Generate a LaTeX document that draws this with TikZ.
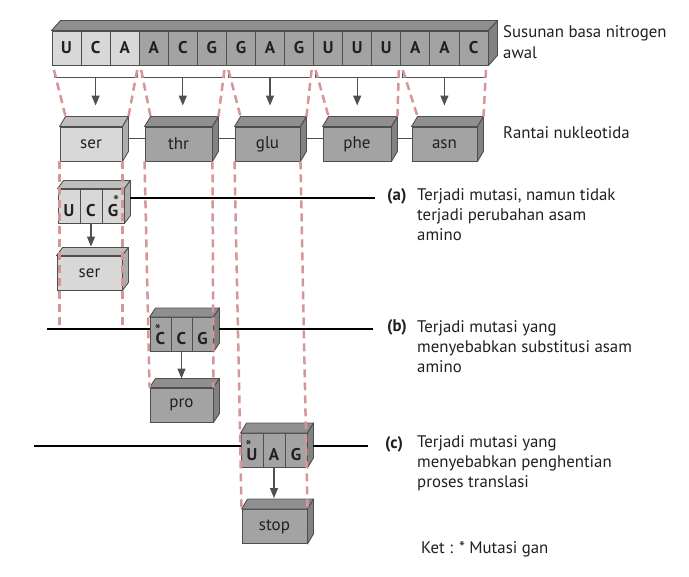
\documentclass[tikz,border=0pt]{standalone}
\usepackage{fontspec}
\setmainfont{PT Sans}
\usetikzlibrary{arrows.meta,calc}

\definecolor{lightbox}{RGB}{216,216,216}
\definecolor{darkbox}{RGB}{163,163,163}
\definecolor{boxline}{RGB}{78,78,78}
\definecolor{cutline}{RGB}{214,150,152}
\definecolor{arrowgray}{RGB}{80,80,80}
\definecolor{inkgray}{RGB}{35,31,32}

\newcommand{\cubefaces}[4]{%
  \draw[boxline, line width=0.9pt, line join=round, fill=#3!88!black] (#1.north west) -- ++(#4) -- ($(#2.north east)+(#4)$) -- (#2.north east) -- cycle;
  \draw[boxline, line width=0.9pt, line join=round, fill=#3!80!black] (#2.north east) -- ++(#4) -- ($(#2.south east)+(#4)$) -- (#2.south east) -- cycle;}
\newcommand{\mutmark}{\raisebox{8.5pt}{\mdseries *}}

\tikzset{
  cell/.style={draw=boxline, line width=0.9pt, minimum width=29.07pt, minimum height=34pt, inner sep=0pt, text=inkgray, font=\fontsize{17}{17}\selectfont\bfseries},
  codon/.style={cell, minimum width=22pt, text height=21pt, text depth=0pt},
  abox/.style={draw=boxline, line width=0.9pt, minimum height=34pt, inner sep=0pt, text=inkgray, font=\fontsize{17}{17}\selectfont},
  bracket/.style={draw=arrowgray, line width=0.9pt},
  arr/.style={draw=arrowgray, line width=1.2pt, -{Triangle[length=10pt,width=8pt]}},
  link/.style={draw=boxline, line width=1pt},
  mutline/.style={draw=black, line width=2.4pt},
  cut/.style={draw=cutline, line width=2.5pt, dash pattern=on 8pt off 5pt},
  tag/.style={anchor=west, inner sep=0pt, text=inkgray, font=\fontsize{16.8}{20}\selectfont\bfseries},
  desc/.style={anchor=north west, inner sep=0pt, align=left, text=inkgray, font=\fontsize{16.8}{20}\selectfont}
}

\begin{document}
\begin{tikzpicture}[x=1pt, y=-1pt]
  \useasboundingbox (0,0) rectangle (689,577);

  \foreach \b [count=\i] in {U,C,A,A,C,G,G,A,G,U,U,U,A,A,C}{
    \ifnum\i<4 \colorlet{cellfill}{lightbox}\else\colorlet{cellfill}{darkbox}\fi
    \node[cell, fill=cellfill] (c\i) at ({52+29.07*(\i-0.5)},48) {\b};
  }
  \cubefaces{c1}{c15}{darkbox}{9,-10}
  \node[desc, font=\fontsize{16.8}{21}\selectfont] (strip) at (503,25) {Susunan basa nitrogen\\awal};

  \foreach \k in {1,...,5}{
    \coordinate (l\k) at ({52+87.2*(\k-1)+2},70);
    \coordinate (r\k) at ({52+87.2*\k-2},70);
    \coordinate (m\k) at ({52+87.2*(\k-0.5)},77);
    \draw[bracket] (l\k) -- ++(0,7) -| (r\k);
  }

  \node[abox, fill=lightbox, minimum width=62pt] (ser) at (91,144) {ser};
  \node[abox, fill=darkbox, minimum width=67pt] (thr) at (178.5,144) {thr};
  \node[abox, fill=darkbox, minimum width=65pt] (glu) at (267.5,144) {glu};
  \node[abox, fill=darkbox, minimum width=68pt] (phe) at (357,144) {phe};
  \node[abox, fill=darkbox, minimum width=65pt] (asn) at (444.5,144) {asn};
  \cubefaces{ser}{ser}{lightbox}{6,-10}
  \cubefaces{thr}{thr}{darkbox}{6,-10}
  \cubefaces{glu}{glu}{darkbox}{6,-10}
  \cubefaces{phe}{phe}{darkbox}{6,-10}
  \cubefaces{asn}{asn}{darkbox}{6,-10}
  \node[desc] (chain) at (503,126) {Rantai nukleotida};

  \draw[link] ($(ser.east)+(6,-5)$) -- ([yshift=5pt]thr.west);
  \draw[link] ($(thr.east)+(6,-5)$) -- ([yshift=5pt]glu.west);
  \draw[link] ($(glu.east)+(6,-5)$) -- ([yshift=5pt]phe.west);
  \draw[link] ($(phe.east)+(6,-5)$) -- ([yshift=5pt]asn.west);

  \foreach \k/\n in {1/ser,2/thr,3/glu,4/phe,5/asn}
    \draw[arr, shorten >=21pt] (m\k) -- (m\k |- \n.north);

  \node[codon, fill=lightbox] (a1) at (69,206) {U};
  \node[codon, fill=lightbox] (a2) at (91,206) {C};
  \node[codon, fill=lightbox] (a3) at (113,206) {G\llap{\mutmark\kern-1pt}};
  \cubefaces{a1}{a3}{lightbox}{6,-8}
  \node[abox, fill=lightbox, minimum width=65pt] (ser2) at (89.5,273) {ser};
  \cubefaces{ser2}{ser2}{lightbox}{6,-8}
  \draw[arr, shorten >=9pt] (a2.south) -- (a2.south |- ser2.north);

  \node[codon, fill=darkbox, minimum width=21pt] (b1) at (160.5,334.5) {\rlap{\kern-1pt\mutmark}C};
  \node[codon, fill=darkbox, minimum width=21pt] (b2) at (181.5,334.5) {C};
  \node[codon, fill=darkbox, minimum width=21pt] (b3) at (202.5,334.5) {G};
  \cubefaces{b1}{b3}{darkbox}{6,-9}
  \node[abox, fill=darkbox, minimum width=63pt] (pro) at (181.5,405) {pro};
  \cubefaces{pro}{pro}{darkbox}{6,-9}
  \draw[arr, shorten >=9pt] (b2.south) -- (b2.south |- pro.north);

  \node[codon, fill=darkbox] (u1) at (252,450.5) {\rlap{\kern-1pt\mutmark}U};
  \node[codon, fill=darkbox] (u2) at (274,450.5) {A};
  \node[codon, fill=darkbox] (u3) at (296,450.5) {G};
  \cubefaces{u1}{u3}{darkbox}{6,-10}
  \node[abox, fill=darkbox, minimum width=65pt] (stop) at (274.5,526.5) {stop};
  \cubefaces{stop}{stop}{darkbox}{6,-10}
  \draw[arr, shorten >=11pt] (u2.south) -- (u2.south |- stop.north);

  \node[tag] (laba) at (387,196) {(a)};
  \node[desc] (desca) at (417,188) {Terjadi mutasi, namun tidak\\terjadi perubahan asam\\amino};
  \node[tag] (labb) at (387,327) {(b)};
  \node[desc] (descb) at (417,320) {Terjadi mutasi yang\\menyebabkan substitusi asam\\amino};
  \node[tag] (labc) at (385,444) {(c)};
  \node[desc] (descc) at (417,435) {Terjadi mutasi yang\\menyebabkan penghentian\\proses translasi};
  \node[desc] (ket) at (421,541) {Ket : * Mutasi gan};

  \coordinate (bL) at (47,329);
  \coordinate (cL) at (34,446);
  \draw[mutline] ($(a3.east |- laba.west)+(6,2)$) -- ([xshift=-12pt,yshift=-2pt]laba.west);
  \draw[mutline] (bL) -- (bL -| b1.west);
  \draw[mutline] ($(b3.east |- bL)+(6,0)$) -- ([xshift=-14pt]labb.west |- bL);
  \draw[mutline] (cL) -- (cL -| u1.west);
  \draw[mutline] ($(u3.east |- cL)+(6,0)$) -- ([xshift=-17pt]labc.west |- cL);

  \draw[cut] (l1) -- ($(ser.north west)+(6,-10)$);
  \draw[cut] (r1) -- ($(ser.north east)+(6,-10)$);
  \draw[cut] (l2) -- ($(thr.north west)+(6,-10)$);
  \draw[cut] (r2) -- ($(thr.north east)+(6,-10)$);
  \draw[cut] (l3) -- ($(glu.north west)+(6,-10)$);
  \draw[cut] (r3) -- ($(glu.north east)+(6,-10)$);
  \draw[cut] (l4) -- ($(phe.north west)+(6,-10)$);
  \draw[cut] (r4) -- ($(phe.north east)+(6,-10)$);
  \draw[cut] (l5) -- ($(asn.north west)+(6,-10)$);
  \draw[cut] (r5) -- ($(asn.north east)+(6,-10)$);
  \draw[cut] (ser.south west) -- (ser.south west |- bL);
  \draw[cut] (ser.south east) -- (ser.south east |- bL);
  \draw[cut] (thr.south west) -- (pro.north west);
  \draw[cut] (thr.south east) -- (pro.north east);
  \draw[cut] (glu.south west) -- (stop.north west);
  \draw[cut] (glu.south east) -- (stop.north east);
\end{tikzpicture}
\end{document}
